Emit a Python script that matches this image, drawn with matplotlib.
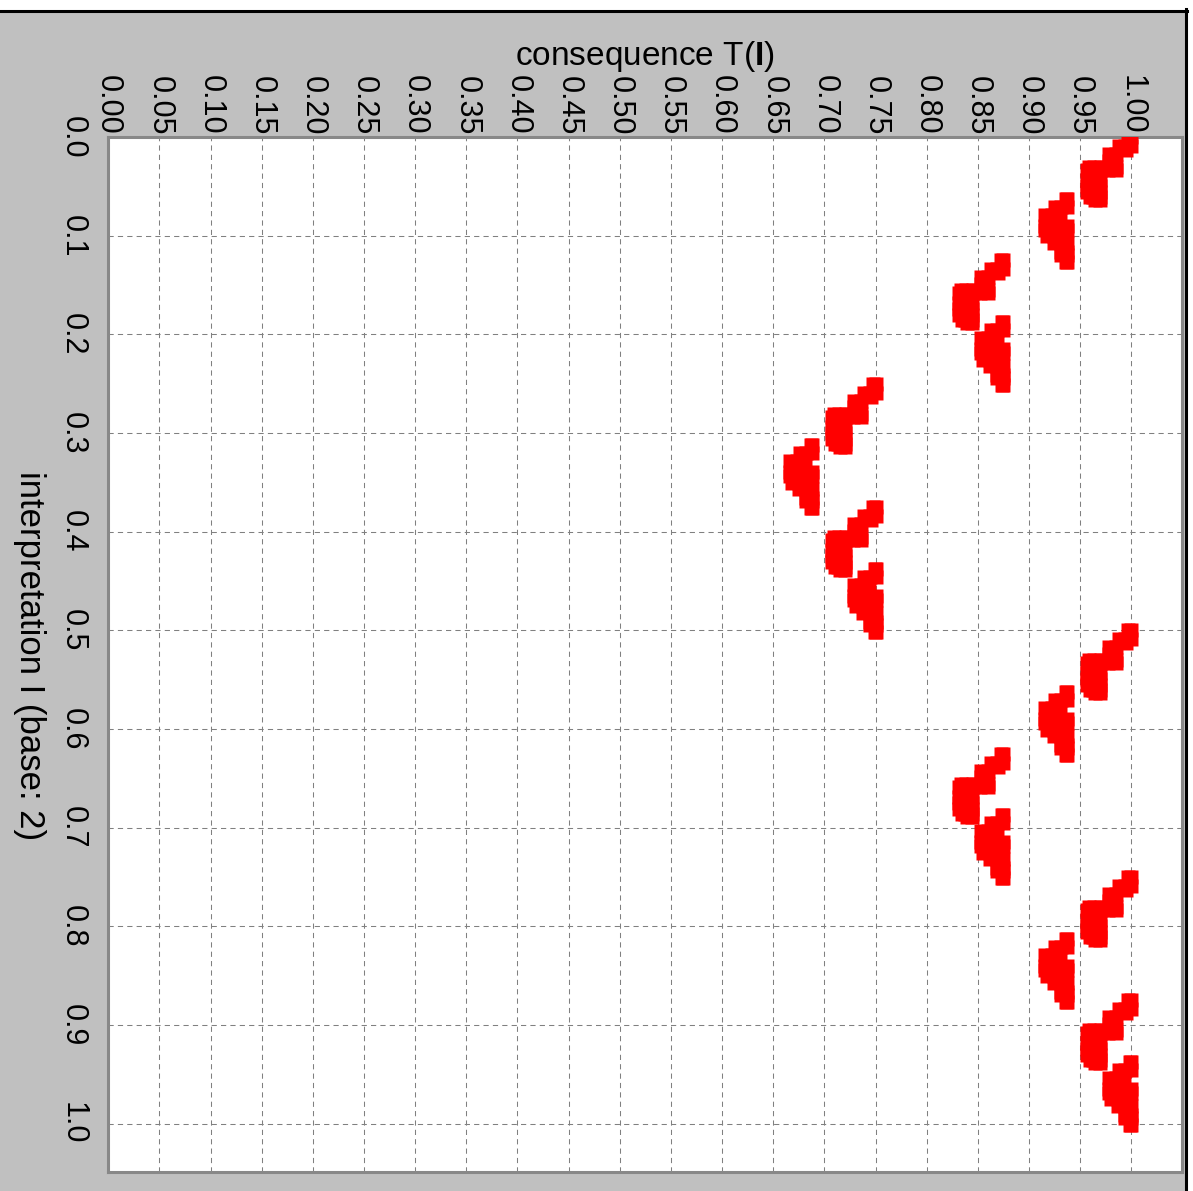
import matplotlib
matplotlib.use("Agg")
import matplotlib.pyplot as plt
from matplotlib.patches import Rectangle
from matplotlib.lines import Line2D

plt.rcParams['font.family'] = ['Liberation Sans', 'DejaVu Sans']
plt.rcParams['mathtext.fontset'] = 'custom'
plt.rcParams['mathtext.rm'] = 'Liberation Sans'
plt.rcParams['mathtext.bf'] = 'Liberation Sans:bold'

# interpretation where each cluster of points begins, and T(I) of its rightmost point
start_I = [0.0, 0.0625, 0.125, 0.1875, 0.25, 0.3125, 0.375, 0.4375,
           0.5, 0.5625, 0.625, 0.6875, 0.75, 0.8125, 0.875, 0.9375]
right_T = [1.0, 0.9375, 0.875, 0.875, 0.75, 0.6875, 0.75, 0.75,
           1.0, 0.9375, 0.875, 0.875, 1.0, 0.9375, 1.0, 1.0]
kind = ['A', 'B', 'A', 'B', 'A', 'B', 'A', 'B',
        'A', 'B', 'A', 'B', 'A', 'B', 'A', 'B']

# shape of a cluster: rows of (offset in I, offsets in T)
shape_A = [
    (0.0,    [-0.0029, 0.0]),
    (0.0091, [-0.0117, -0.0059, 0.0]),
    (0.0132, [-0.0049]),
    (0.0172, [-0.0215, -0.0147]),
    (0.0240, [-0.0215]),
    (0.0304, [-0.0411, -0.0362, -0.0293, -0.0225, -0.0147]),
    (0.0334, [-0.043, -0.0362, -0.0293, -0.0225, -0.0147]),
    (0.0436, [-0.043, -0.0372, -0.0303]),
    (0.0497, [-0.043, -0.0372, -0.0303]),
    (0.0557, [-0.043, -0.0372, -0.0303]),
    (0.0608, [-0.0401, -0.0372, -0.0303]),
    (0.0638, [-0.0352, -0.0303]),
]
shape_B = [
    (0.0,    [-0.001, 0.0]),
    (0.0081, [-0.0117, -0.0059, 0.0]),
    (0.0162, [-0.0215, -0.0147, -0.0068]),
    (0.0274, [-0.0215, -0.0147, -0.0078, 0.0]),
    (0.0314, [-0.0215, -0.0147, -0.0078, 0.0]),
    (0.0380, [-0.0196, -0.0127]),
    (0.0446, [-0.0127, -0.0059, 0.0]),
    (0.0537, [-0.0059, 0.0]),
    (0.0567, [-0.0059, 0.0]),
    (0.0638, [-0.001, 0.0]),
]

pts_T = []
pts_I = []
for i0, t0, k in zip(start_I, right_T, kind):
    rows = shape_A if k == 'A' else shape_B
    for di, dts in rows:
        for dt in dts:
            pts_T.append(t0 + dt)
            pts_I.append(i0 + di)

W, H = 1193, 1191
fig = plt.figure(figsize=(W / 100, H / 100), dpi=100)
fig.patch.set_facecolor('white')

# grey panel with black rule at top and right
fig.add_artist(Rectangle((0, 0), 1185 / W, (H - 10.5) / H, transform=fig.transFigure,
                         facecolor='#c0c0c0', edgecolor='none', zorder=-5))
fig.add_artist(Line2D([0, 1187 / W], [(H - 10.5) / H] * 2, transform=fig.transFigure,
                      color='black', lw=2.2))
fig.add_artist(Line2D([1185.5 / W] * 2, [0, (H - 9) / H], transform=fig.transFigure,
                      color='black', lw=2.2))

left, right, top, bottom = 108.2, 1181.5, 137.1, 1172.0
ax = fig.add_axes([left / W, (H - bottom) / H, (right - left) / W, (bottom - top) / H])
ax.set_facecolor('white')

ax.plot(pts_T, pts_I, 's', color='#ff0000', ms=10.1, mec='none', zorder=3)

ax.set_xlim(0, 1.049)
ax.set_ylim(1.049, 0)

xt = [i * 0.05 for i in range(21)]
yt = [i * 0.1 for i in range(11)]
ax.set_xticks(xt)
ax.set_xticklabels(['%.2f' % v for v in xt])
ax.set_yticks(yt)
ax.set_yticklabels(['%.1f' % v for v in yt])
ax.xaxis.tick_top()
ax.tick_params(axis='x', length=0, pad=1.5, labelsize=22, labelrotation=-90)
ax.tick_params(axis='y', length=0, pad=15, labelsize=22, labelrotation=-90)
for lab in ax.get_yticklabels():
    lab.set_verticalalignment('center')

ax.grid(True, color='#808080', lw=0.75, linestyle=(0, (5, 4)))
ax.set_axisbelow(True)

for s in ax.spines.values():
    s.set_color('#888888')
    s.set_linewidth(2.2)

fig.text(644.8 / W, (H - 57) / H, r'consequence T($\mathbf{I}$)', ha='center', va='center',
         fontsize=24)
fig.text(29 / W, (H - 656) / H, 'interpretation I (base: 2)', ha='center', va='center',
         rotation=-90, fontsize=25)

fig.savefig('out.png', dpi=100, facecolor=fig.get_facecolor())
